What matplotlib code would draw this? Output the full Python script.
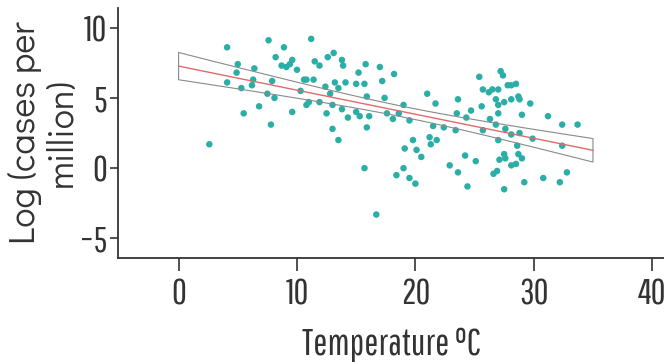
import matplotlib
matplotlib.use("Agg")
import matplotlib.pyplot as plt
import numpy as np

# Temperature (deg C) and log cases per million
temp = [
    4.1, 2.6, 5.0, 4.9, 4.1, 5.3, 5.5, 6.4, 6.3, 6.2, 6.8, 7.6, 7.8, 7.9, 7.5, 8.1,
    8.2, 8.9, 8.7, 9.1, 9.4, 9.6, 9.6, 10.0, 10.3, 10.6, 10.8, 10.8, 11.0, 11.2, 11.4, 11.5,
    11.9, 12.6, 13.1, 13.8, 13.9, 12.4, 13.2, 13.5, 14.1, 12.8, 11.9, 13.0, 12.5, 13.8,
    14.3, 15.0, 15.3, 16.1, 13.0, 13.5, 15.0, 15.2, 15.8, 15.7, 15.9, 15.9, 15.7, 16.7,
    17.0, 17.2, 17.4, 17.6, 18.1, 18.2, 18.6, 19.0, 19.1, 18.4, 19.0, 19.5, 20.0, 19.5,
    19.8, 20.1, 20.5, 21.0, 21.5, 21.7, 21.2, 21.3, 21.8, 22.4, 22.9, 23.4, 23.6, 23.5,
    23.6, 24.3, 24.2, 24.4, 24.7, 25.1, 25.4, 25.6, 25.7, 25.7, 26.2, 26.3, 26.5, 26.6,
    26.9, 26.8, 27.0, 27.0, 27.0, 26.8, 27.0, 27.2, 27.4, 27.5, 27.5, 27.6, 27.1, 27.6,
    27.5, 27.8, 28.1, 28.5, 28.1, 28.1, 28.1, 28.5, 28.7, 28.8, 28.8, 28.6, 28.7, 29.0,
    29.0, 29.2, 29.7, 29.9, 30.8, 31.2, 32.2, 32.4, 32.4, 32.8, 33.7,
]
log_cases = [
    8.6, 1.7, 7.4, 6.8, 6.1, 5.7, 3.9, 7.1, 6.3, 5.9, 4.4, 9.1, 3.1, 6.2, 5.3, 5.0,
    7.9, 8.6, 7.3, 7.2, 7.4, 7.7, 4.0, 7.0, 5.5, 6.3, 6.3, 4.5, 4.7, 9.2, 6.3, 7.6,
    7.3, 7.9, 8.2, 7.7, 7.3, 5.8, 6.1, 5.7, 6.1, 5.3, 4.7, 4.5, 3.9, 4.2,
    3.6, 4.0, 3.7, 3.7, 2.8, 2.0, 6.0, 6.8, 7.4, 6.0, 5.1, 2.9, 0.0, -3.3,
    7.2, 6.2, 5.0, 3.9, 3.5, 6.7, 3.9, 4.5, 1.4, -0.5, 0.0, -0.7, -1.1, 3.4,
    2.0, 1.3, 0.8, 5.3, 3.0, 4.6, 2.2, 1.7, 2.0, 2.9, 0.2, 2.7, 4.9, 3.9,
    -0.3, 3.6, 0.9, -1.3, 4.1, 0.5, 6.5, 4.4, 5.6, 2.7, 5.4, 3.5, 5.6, -0.4,
    -0.2, 4.9, 5.6, 4.5, 3.9, 3.1, 2.0, 6.9, 6.6, 4.7, 1.0, 0.7, 0.6, 2.8,
    -1.5, 5.9, 5.9, 6.0, 4.9, 2.4, 0.2, 0.3, 5.1, 4.9, 2.5, 1.6, 1.0, 0.7,
    3.8, -1.0, 4.6, 2.1, -0.7, 3.7, -1.0, 3.1, 1.6, -0.3, 3.1,
]
fit_range = [0, 35]

x = np.array(temp)
y = np.array(log_cases)

# ordinary least squares with 95% confidence band
n = len(x)
slope, intercept = np.polyfit(x, y, 1)
resid = y - (intercept + slope * x)
s = np.sqrt(np.sum(resid ** 2) / (n - 2))
sxx = np.sum((x - x.mean()) ** 2)
xf = np.linspace(fit_range[0], fit_range[1], 200)
yf = intercept + slope * xf
half = 1.97 * s * np.sqrt(1.0 / n + (xf - x.mean()) ** 2 / sxx)

fig = plt.figure(figsize=(6.64, 3.62), dpi=100)
ax = fig.add_axes([0.178, 0.287, 0.822, 0.691])

ax.scatter(x, y, s=22, color="#2aaea6", edgecolors="none", zorder=2)
ax.fill_between(xf, yf - half, yf + half, facecolor="none",
                edgecolor="#8a8a8a", linewidth=0.8, zorder=3)
ax.plot(xf, yf, color="#e06a6a", linewidth=1.0, zorder=4)

ax.set_xlim(-5.1, 41.0)
ax.set_ylim(-6.4, 11.4)
ax.set_xticks([0, 10, 20, 30, 40])
ax.set_yticks([-5, 0, 5, 10])
ax.set_yticklabels(["\u22125", "0", "5", "10"])

for side in ["top", "right"]:
    ax.spines[side].set_visible(False)
for side in ["left", "bottom"]:
    ax.spines[side].set_linewidth(1.3)
    ax.spines[side].set_color("#333333")

narrow = ["Pathway Gothic One", "Barlow Condensed", "DejaVu Sans"]
ax.tick_params(axis="x", length=9, width=1.2, color="#333333", pad=5)
ax.tick_params(axis="y", length=6, width=1.2, color="#333333", pad=2)
for lab in ax.get_xticklabels() + ax.get_yticklabels():
    lab.set_family(narrow)
    lab.set_fontsize(26)
    lab.set_color("#333333")

ax.set_xlabel("Temperature \u00b0C", family=narrow, fontsize=27,
              color="#333333", labelpad=12)
ax.set_ylabel("Log (cases per\nmillion)",
              family=["Didact Gothic", "Questrial", "DejaVu Sans"],
              fontsize=26, color="#333333", linespacing=1.1, labelpad=1)

fig.savefig("out.png", dpi=100)
